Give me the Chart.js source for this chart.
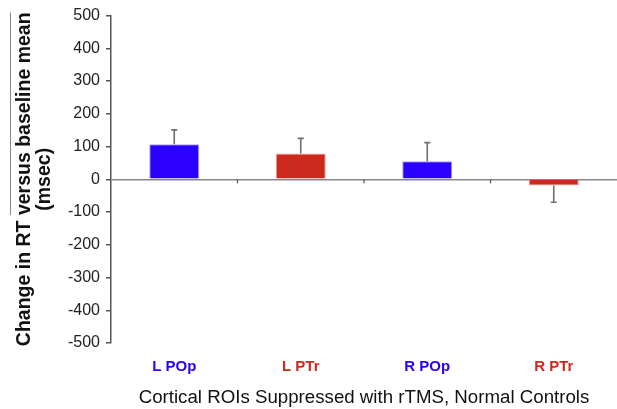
<!DOCTYPE html>
<html>
<head>
<meta charset="utf-8">
<script src="https://cdn.jsdelivr.net/npm/chart.js@4"></script>
<style>
  html, body { margin: 0; padding: 0; background: #fff; }
  #wrap { width: 617px; height: 409px; }
</style>
</head>
<body>
<div id="wrap"><canvas id="myChart" width="617" height="409"></canvas></div>
<script>
// data
const rois = ['L POp', 'L PTr', 'R POp', 'R PTr'];
const rtChange = [107, 79, 55, -19];
const rtError = [44, 46, 57, 51];
const roiColors = ['#2B00FF', '#CC2A1E', '#2B00FF', '#CC2A1E'];
const yTicks = [-500, -400, -300, -200, -100, 0, 100, 200, 300, 400, 500];

const FONT = '"Liberation Sans", Arial, sans-serif';
const Y_TITLE_SIZE = 19.5;
const yTitleLines = ['Change in RT versus baseline mean', '(msec)'];

// one sided error bars + small ticks between the categories on the zero line
const errorBars = {
  id: 'errorBars',
  afterDatasetsDraw(chart) {
    const ctx = chart.ctx;
    const x = chart.scales.x, y = chart.scales.y;
    const meta = chart.getDatasetMeta(0);
    const y0 = y.getPixelForValue(0);

    ctx.save();
    ctx.strokeStyle = '#6f6f6f';
    ctx.lineWidth = 1.6;
    meta.data.forEach((bar, i) => {
      const v = rtChange[i];
      const end = v >= 0 ? v + rtError[i] : v - rtError[i];
      const yv = y.getPixelForValue(v);
      const ye = y.getPixelForValue(end);
      ctx.beginPath();
      ctx.moveTo(bar.x, yv);
      ctx.lineTo(bar.x, ye);
      ctx.moveTo(bar.x - 3, ye);
      ctx.lineTo(bar.x + 3, ye);
      ctx.stroke();
    });

    ctx.strokeStyle = '#555';
    ctx.lineWidth = 1.2;
    for (let i = 0; i < rois.length - 1; i++) {
      const xm = (x.getPixelForValue(i) + x.getPixelForValue(i + 1)) / 2;
      ctx.beginPath();
      ctx.moveTo(xm, y0);
      ctx.lineTo(xm, y0 + 4);
      ctx.stroke();
    }
    ctx.restore();
  },
  afterDraw(chart) {
    // thin overline over "versus baseline mean" as in the original
    const ctx = chart.ctx;
    const area = chart.chartArea;
    ctx.save();
    ctx.font = 'bold ' + Y_TITLE_SIZE + 'px ' + FONT;
    const full = ctx.measureText(yTitleLines[0]).width;
    const part = ctx.measureText('versus baseline mean').width;
    const cy = (area.top + area.bottom) / 2;
    const top = cy - full / 2;
    ctx.strokeStyle = '#888';
    ctx.lineWidth = 1;
    ctx.beginPath();
    ctx.moveTo(10.5, top);
    ctx.lineTo(10.5, top + part);
    ctx.stroke();
    ctx.restore();
  }
};

new Chart(document.getElementById('myChart'), {
  type: 'bar',
  data: {
    labels: rois,
    datasets: [{
      data: rtChange,
      backgroundColor: roiColors,
      borderColor: ['#A9A0FF', '#E8A39C', '#A9A0FF', '#E8A39C'],
      borderWidth: 1,
      categoryPercentage: 1,
      barPercentage: 0.395
    }]
  },
  options: {
    responsive: false,
    animation: false,
    events: [],
    layout: { padding: { top: 14, left: 0, right: 0, bottom: 0 } },
    plugins: {
      legend: { display: false },
      tooltip: { enabled: false }
    },
    scales: {
      x: {
        grid: { display: false, drawTicks: false },
        border: { display: false },
        ticks: {
          padding: 15,
          color: c => roiColors[c.index],
          font: { family: FONT, size: 15, weight: 'bold' }
        },
        title: {
          display: true,
          text: 'Cortical ROIs Suppressed with rTMS, Normal Controls',
          color: '#111',
          font: { family: FONT, size: 18.7 },
          padding: { top: 8, bottom: 0 }
        },
        afterFit(s) { s.height = 66; }
      },
      y: {
        min: -500,
        max: 500,
        afterBuildTicks(s) { s.ticks = yTicks.map(v => ({ value: v })); },
        grid: {
          color: c => (c.tick && c.tick.value === 0) ? '#888' : 'rgba(0,0,0,0)',
          lineWidth: 1.5,
          tickColor: '#555',
          tickLength: 5
        },
        border: { color: '#555', width: 1.5 },
        ticks: {
          padding: 6,
          color: '#222',
          font: { family: FONT, size: 16 }
        },
        title: {
          display: true,
          text: yTitleLines,
          color: '#111',
          font: { family: FONT, size: Y_TITLE_SIZE, weight: 'bold', lineHeight: 20 / Y_TITLE_SIZE },
          padding: { top: 15, bottom: 0 }
        },
        afterFit(s) { s.width = 111; }
      }
    }
  },
  plugins: [errorBars]
});
</script>
</body>
</html>
